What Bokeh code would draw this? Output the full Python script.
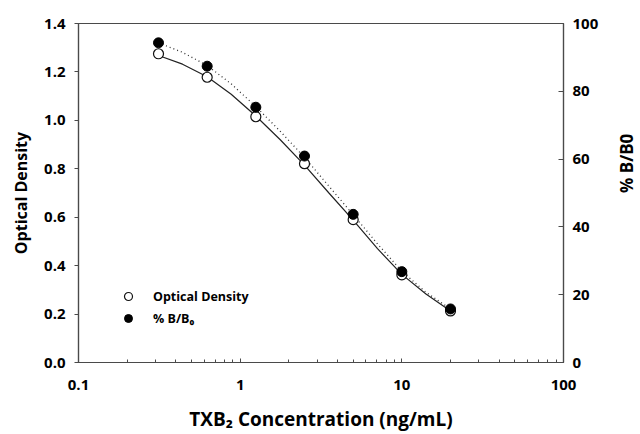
import math
from bokeh.plotting import figure
from bokeh.models import (Range1d, LinearAxis, Legend, LegendItem, FixedTicker,
                          PrintfTickFormatter, CustomJSTickFormatter)
from bokeh.embed import file_html
from bokeh.resources import INLINE

# Data
conc = [0.3125, 0.625, 1.25, 2.5, 5, 10, 20]
od = [1.275, 1.178, 1.015, 0.821, 0.590, 0.362, 0.213]
pct_b_b0 = [94.3, 87.4, 75.3, 60.9, 43.7, 26.8, 15.8]

# Fitted curves
curve_x = [0.3125, 0.44, 0.625, 0.88, 1.25, 1.77, 2.5, 3.54, 5, 7.07, 10, 14.1, 20]
curve_od = [1.268, 1.232, 1.180, 1.108, 1.018, 0.920, 0.815, 0.700, 0.588, 0.470, 0.364, 0.283, 0.213]
curve_pct = [94.3, 91.5, 87.6, 82.2, 75.5, 68.2, 60.5, 52.0, 43.6, 35.0, 26.9, 20.7, 15.8]

left_ticks = [0.0, 0.2, 0.4, 0.6, 0.8, 1.0, 1.2, 1.4]
right_ticks = [0, 20, 40, 60, 80, 100]
x_ticks = [0.1, 1, 10, 100]
x_minor = [d * m for d in [0.1, 1, 10] for m in range(2, 10)]

FONT = "Open Sans"
AX = "#4a4a4a"

p = figure(frame_width=485, frame_height=339, x_axis_type="log",
           x_range=Range1d(0.1, 100), y_range=Range1d(0, 1.4),
           output_backend="svg", toolbar_location=None,
           min_border_left=78, min_border_right=75, min_border_top=23, min_border_bottom=70)
p.extra_y_ranges = {"pct": Range1d(0, 100)}
p.xgrid.visible = False
p.ygrid.visible = False
p.outline_line_color = AX
p.outline_line_width = 1.2
p.background_fill_color = "white"
p.border_fill_color = "white"

# Curves
p.line(curve_x, curve_od, line_color="#222222", line_width=1.2)
p.line(curve_x, curve_pct, y_range_name="pct", line_color="#333333", line_width=1.3, line_dash="1 3")

r_open = p.scatter(conc, od, size=10, marker="circle", fill_color="white",
                   line_color="#111111", line_width=1.2)
r_fill = p.scatter(conc, pct_b_b0, y_range_name="pct", size=10, marker="circle",
                   fill_color="black", line_color="black")


def style_axis(ax, title, title_size):
    ax.axis_label = title
    ax.axis_label_text_font = FONT
    ax.axis_label_text_font_style = "bold"
    ax.axis_label_text_font_size = title_size
    ax.axis_label_text_color = "black"
    ax.major_label_text_font = FONT
    ax.major_label_text_font_style = "bold"
    ax.major_label_text_font_size = "15px"
    ax.major_label_text_color = "black"
    ax.axis_line_color = AX
    ax.major_tick_line_color = AX
    ax.minor_tick_line_color = AX
    ax.axis_line_width = 1.2
    ax.major_tick_out = 0
    ax.major_tick_in = 0
    ax.minor_tick_out = 0
    ax.minor_tick_in = 0


# Left axis
ya = p.yaxis[0]
ya.ticker = FixedTicker(ticks=left_ticks)
ya.formatter = PrintfTickFormatter(format="%.1f")
style_axis(ya, "Optical Density", "16px")
ya.axis_label_standoff = 9
ya.major_label_standoff = 9
ya.major_tick_out = 4

# Right axis
ra = LinearAxis(y_range_name="pct", ticker=FixedTicker(ticks=right_ticks))
style_axis(ra, "% B/B0", "17px")
ra.axis_label_orientation = math.pi / 2
ra.axis_label_standoff = 25
ra.major_label_standoff = 9
ra.major_tick_in = 5
p.add_layout(ra, "right")

# Bottom axis
xa = p.xaxis[0]
xa.ticker = FixedTicker(ticks=x_ticks, minor_ticks=x_minor)
xa.formatter = CustomJSTickFormatter(code="return tick < 1 ? tick.toFixed(1) : tick.toFixed(0);")
style_axis(xa, "TXB₂ Concentration (ng/mL)", "19px")
xa.axis_label_standoff = 13
xa.major_label_standoff = 17
xa.major_tick_in = 4
xa.minor_tick_in = 3

legend = Legend(items=[LegendItem(label="Optical Density", renderers=[r_open]),
                       LegendItem(label="% B/B₀", renderers=[r_fill])],
                location=(40, 34), border_line_color=None, background_fill_alpha=0,
                padding=0, margin=0, spacing=2, glyph_width=20, glyph_height=20,
                label_standoff=15, label_text_font=FONT, label_text_font_style="bold",
                label_text_font_size="12.5px", label_text_color="black", label_height=20)
p.add_layout(legend, "center")

open("out.html", "w").write(file_html(p, INLINE))
